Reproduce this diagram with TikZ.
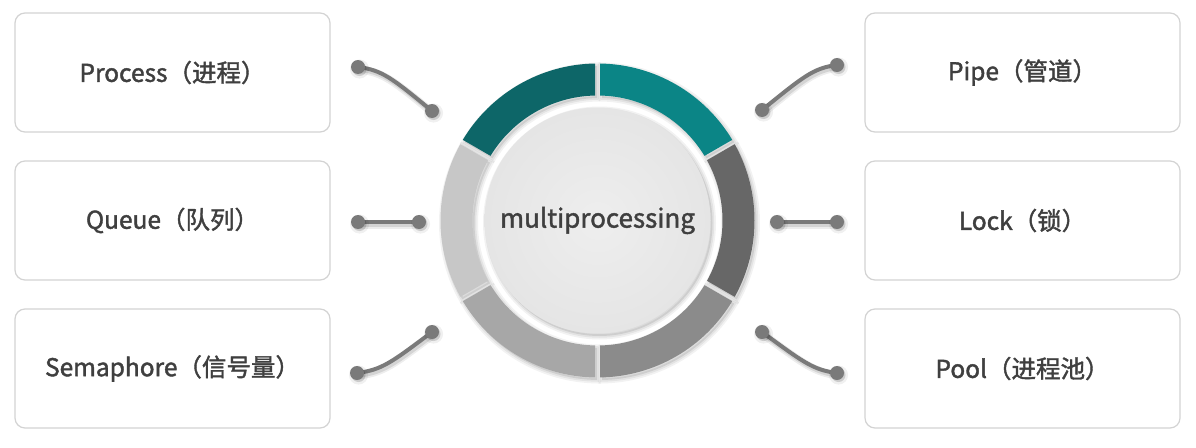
\documentclass[tikz,border=0pt]{standalone}
\usepackage{fontspec}
\setmainfont{Noto Sans CJK SC}[FakeBold=1.6]
\definecolor{tealdark}{HTML}{0D6668}
\definecolor{teallight}{HTML}{0B8586}
\definecolor{segA}{HTML}{676767}
\definecolor{segB}{HTML}{8B8B8B}
\definecolor{segC}{HTML}{A7A7A7}
\definecolor{segD}{HTML}{C7C7C7}
\definecolor{coreinner}{HTML}{EEEEEE}
\definecolor{coreouter}{HTML}{E5E5E5}
\definecolor{boxline}{HTML}{D3D3D3}
\definecolor{txt}{HTML}{3F3F3F}
\definecolor{connc}{HTML}{7A7A7A}
\pgfdeclarelayer{background}
\pgfsetlayers{background,main}
\tikzset{
  box/.style={draw=boxline, line width=1.2pt, fill=white, rounded corners=10pt,
    minimum width=315pt, minimum height=119pt, text=txt, font=\fontsize{24.5}{30}\selectfont, inner sep=0pt},
  softshade/.style={
    preaction={draw=black, draw opacity=0.05, line width=7pt, transform canvas={shift={(2pt,-2.5pt)}}},
    preaction={draw=black, draw opacity=0.06, line width=3.5pt, transform canvas={shift={(2pt,-2.5pt)}}},
    preaction={fill=black, fill opacity=0.09, transform canvas={shift={(2pt,-2.5pt)}}}},
  dotnode/.style={circle, fill=connc, minimum size=14pt, inner sep=0pt,
    preaction={draw=black, draw opacity=0.06, line width=5pt, transform canvas={shift={(1.5pt,-2pt)}}},
    preaction={fill=black, fill opacity=0.15, transform canvas={shift={(1.5pt,-2pt)}}}},
  conn/.style={draw=connc, line width=4pt,
    preaction={draw=black, draw opacity=0.07, line width=8pt, transform canvas={shift={(1.5pt,-2.5pt)}}},
    preaction={draw=black, draw opacity=0.1, line width=4.5pt, transform canvas={shift={(1.5pt,-2.5pt)}}}}
}
\begin{document}
\begin{tikzpicture}[x=1pt,y=-1pt]
\useasboundingbox (0,0) rectangle (1196,447);
\begin{pgfonlayer}{background}
\fill[white] (0,0) rectangle (1196,447);
\end{pgfonlayer}

% boxes
\node[box] (process) at (172.5,72.5) {Process（进程）};
\node[box] (queue) at (172.5,220.5) {Queue（队列）};
\node[box] (sema) at (172.5,368.5) {Semaphore（信号量）};
\node[box] (pipe) at (1022.5,72.5) {Pipe（管道）};
\node[box] (lock) at (1022.5,220.5) {Lock（锁）};
\node[box] (pool) at (1022.5,368.5) {Pool（进程池）};

% ring
\begin{scope}[shift={(597.5,220.5)}, yscale=-1]
  \foreach \a/\b in {90/150, 30/90, -30/30, -90/-30, -150/-90, 150/210}{
    \path[softshade] (\a+0.91:157) arc[start angle=\a+0.91, end angle=\b-0.91, radius=157]
      -- (\b-1.15:125) arc[start angle=\b-1.15, end angle=\a+1.15, radius=125] -- cycle;
  }
  \foreach \a/\b/\c in {90/150/tealdark, 30/90/teallight, -30/30/segA, -90/-30/segB, -150/-90/segC, 150/210/segD}{
    \fill[\c] (\a+0.91:157) arc[start angle=\a+0.91, end angle=\b-0.91, radius=157]
      -- (\b-1.15:125) arc[start angle=\b-1.15, end angle=\a+1.15, radius=125] -- cycle;
  }
\end{scope}
\node[circle, minimum size=226pt, inner sep=0pt, softshade, inner color=coreinner, outer color=coreouter,
  text=txt, font=\fontsize{26}{30}\selectfont] (core) at (597.5,220.5) {multiprocessing};

% connector dots
\node[dotnode] (l1a) at (358,67) {};
\node[dotnode] (l1b) at (432,111) {};
\node[dotnode] (l2a) at (358,222) {};
\node[dotnode] (l2b) at (419,222) {};
\node[dotnode] (l3a) at (357,373) {};
\node[dotnode] (l3b) at (432,332) {};
\node[dotnode] (r1a) at (837,65) {};
\node[dotnode] (r1b) at (762,110) {};
\node[dotnode] (r2a) at (777,222) {};
\node[dotnode] (r2b) at (837,222) {};
\node[dotnode] (r3a) at (762,332) {};
\node[dotnode] (r3b) at (837,373) {};

\begin{pgfonlayer}{background}
\draw[conn] (l1a.center) .. controls (382,70) and (392,78) .. (l1b.center);
\draw[conn] (l2a.center) -- (l2b.center);
\draw[conn] (l3a.center) .. controls (382,370) and (392,362) .. (l3b.center);
\draw[conn] (r1a.center) .. controls (813,68) and (803,77) .. (r1b.center);
\draw[conn] (r2a.center) -- (r2b.center);
\draw[conn] (r3a.center) .. controls (803,362) and (813,370) .. (r3b.center);
\end{pgfonlayer}
\end{tikzpicture}
\end{document}
